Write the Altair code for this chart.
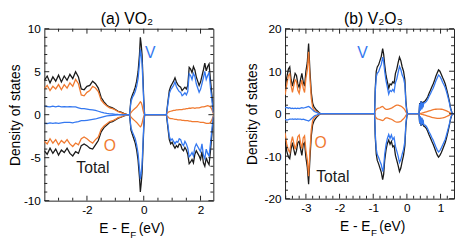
import altair as alt
import pandas as pd

FONT = "Liberation Sans"
C_TOT = "#1a1a1a"
C_V = "#3478f0"
C_O = "#f07a30"
FRAME = "#222222"

# ---------------- panel (a) VO2 ----------------
A_E = [-3.5, -3.4, -3.3, -3.2, -3.1, -3.0, -2.9, -2.8, -2.7, -2.6, -2.5, -2.4, -2.3, -2.2, -2.1, -2.0,
       -1.9, -1.8, -1.7, -1.6, -1.5, -1.4, -1.3, -1.2, -1.1, -1.0, -0.9, -0.8, -0.7, -0.6, -0.5,
       -0.45, -0.40, -0.35, -0.30, -0.25, -0.20, -0.15, -0.12, -0.09, -0.06, -0.03, 0.00, 0.03,
       0.75, 0.80, 0.85, 0.90, 0.95, 1.00, 1.05, 1.10, 1.15, 1.20, 1.25, 1.30, 1.35, 1.40, 1.45, 1.50,
       1.55, 1.60, 1.65, 1.70, 1.75, 1.80, 1.85, 1.90, 1.95, 2.00, 2.05, 2.10, 2.15, 2.20, 2.25, 2.30,
       2.35, 2.40, 2.45]
A_TOT_UP = [4.0, 4.5, 3.7, 4.4, 3.9, 4.6, 3.8, 4.5, 4.0, 4.7, 4.2, 5.0, 4.4, 3.0, 2.9, 3.3,
            3.4, 3.9, 3.6, 3.1, 2.0, 1.5, 1.1, 0.9, 0.8, 0.6, 0.4, 0.3, 0.15, 0.05, 0.0,
            1.8, 2.3, 2.7, 3.2, 3.9, 5.0, 7.0, 9.0, 8.2, 7.0, 4.5, 1.8, 0.0,
            0.0, 0.05, 1.5, 2.8, 3.3, 3.6, 3.9, 4.3, 3.8, 3.5, 3.3, 3.2, 2.8, 3.0, 3.2, 3.0,
            3.4, 5.5, 5.3, 4.9, 5.6, 5.2, 4.4, 3.9, 3.4, 3.8, 4.5, 5.2, 6.0, 5.1, 5.6, 5.9,
            4.0, 2.3, 0.3]
A_TOT_DN = [-4.2, -4.6, -3.9, -4.5, -4.0, -4.7, -4.1, -4.4, -3.9, -4.5, -4.8, -4.3, -4.5, -3.6, -3.4, -3.6,
            -3.9, -4.0, -3.5, -3.0, -2.0, -1.5, -1.2, -0.9, -0.8, -0.6, -0.4, -0.3, -0.15, -0.05, 0.0,
            -1.8, -2.3, -2.8, -3.3, -4.1, -5.3, -7.3, -9.0, -8.0, -6.8, -4.2, -1.6, 0.0,
            0.0, -0.05, -1.5, -2.9, -3.4, -3.2, -3.6, -3.9, -3.6, -3.8, -3.4, -3.5, -4.0, -4.2, -3.8, -4.1,
            -4.6, -5.7, -5.5, -5.2, -5.6, -4.6, -4.2, -4.5, -4.8, -5.2, -4.3, -5.6, -6.0, -5.0, -5.5, -5.8,
            -4.2, -2.3, -0.3]
A_V_UP = [1.0, 0.95, 0.9, 1.0, 0.9, 1.0, 0.9, 0.95, 0.9, 0.95, 0.9, 0.9, 0.8, 0.7, 0.7, 0.65,
          0.6, 0.55, 0.5, 0.4, 0.3, 0.22, 0.15, 0.1, 0.08, 0.05, 0.03, 0.02, 0.01, 0.0, 0.0,
          1.5, 2.0, 2.3, 2.7, 3.3, 4.2, 6.0, 7.6, 7.0, 6.0, 3.8, 1.5, 0.0,
          0.0, 0.0, 1.25, 2.45, 2.9, 3.15, 3.4, 3.8, 3.25, 2.95, 2.7, 2.6, 2.2, 2.35, 2.55, 2.3,
          2.7, 4.75, 4.55, 4.1, 4.8, 4.45, 3.6, 3.1, 2.6, 2.95, 3.6, 4.3, 5.05, 4.1, 4.55, 4.9,
          3.1, 1.7, 0.2]
A_V_DN = [-1.0, -1.05, -0.95, -1.0, -0.95, -1.0, -0.95, -0.9, -0.9, -0.9, -0.95, -0.85, -0.8, -0.7, -0.7, -0.65,
          -0.6, -0.55, -0.5, -0.4, -0.3, -0.22, -0.15, -0.1, -0.08, -0.05, -0.03, -0.02, -0.01, 0.0, 0.0,
          -1.5, -2.0, -2.4, -2.8, -3.5, -4.5, -6.3, -7.5, -6.8, -5.8, -3.6, -1.3, 0.0,
          0.0, 0.0, -1.2, -2.5, -3.0, -2.8, -3.1, -3.4, -3.1, -3.2, -2.8, -2.9, -3.4, -3.6, -3.1, -3.4,
          -3.9, -4.9, -4.7, -4.4, -4.8, -3.8, -3.4, -3.7, -4.0, -4.3, -3.4, -4.7, -5.1, -4.0, -4.5, -4.8,
          -3.3, -1.7, -0.2]
A_O_UP = [3.0, 3.4, 2.8, 3.3, 3.0, 3.5, 2.9, 3.5, 3.1, 3.7, 3.3, 4.1, 3.6, 2.3, 2.2, 2.6,
          2.8, 3.3, 3.1, 2.7, 1.7, 1.3, 1.0, 0.8, 0.7, 0.55, 0.35, 0.25, 0.12, 0.04, 0.0,
          0.25, 0.45, 0.6, 0.75, 0.9, 1.1, 1.35, 1.5, 1.4, 1.1, 0.6, 0.2, 0.0,
          0.0, 0.05, 0.25, 0.35, 0.4, 0.45, 0.5, 0.5, 0.55, 0.55, 0.6, 0.6, 0.6, 0.65, 0.65, 0.7,
          0.7, 0.75, 0.75, 0.8, 0.8, 0.75, 0.8, 0.8, 0.8, 0.85, 0.9, 0.9, 0.95, 1.0, 1.05, 1.0,
          0.9, 0.6, 0.1]
A_O_DN = [-3.1, -3.4, -2.8, -3.3, -2.9, -3.5, -3.0, -3.3, -2.9, -3.4, -3.7, -3.3, -3.5, -2.8, -2.6, -2.8,
          -3.1, -3.3, -2.9, -2.6, -1.7, -1.3, -1.05, -0.8, -0.7, -0.55, -0.35, -0.25, -0.12, -0.04, 0.0,
          -0.25, -0.45, -0.6, -0.75, -0.9, -1.1, -1.3, -1.4, -1.3, -1.0, -0.55, -0.2, 0.0,
          0.0, -0.1, -0.25, -0.4, -0.45, -0.45, -0.5, -0.55, -0.55, -0.6, -0.6, -0.6, -0.65, -0.65, -0.7, -0.7,
          -0.7, -0.75, -0.75, -0.8, -0.8, -0.8, -0.8, -0.8, -0.85, -0.9, -0.9, -0.9, -0.95, -1.0, -1.0, -1.0,
          -0.9, -0.6, -0.1]
A_XDOM = [-3.5, 2.45]
A_YDOM = [-10, 10]
A_XMAJ = [-2, 0, 2]
A_XMIN = [-3.0, -2.5, -1.5, -1.0, -0.5, 0.5, 1.0, 1.5]
A_YMAJ = [-10, -5, 0, 5, 10]
A_YMIN = [-9, -8, -7, -6, -4, -3, -2, -1, 1, 2, 3, 4, 6, 7, 8, 9]
A_LAB_TXT = ["V", "O", "Total"]
A_LAB_E = [0.23, -1.19, -1.79]
A_LAB_DOS = [7.2, -3.7, -6.2]

# ---------------- panel (b) V2O3 ----------------
B_E = [-3.62, -3.57, -3.52, -3.48, -3.44, -3.40, -3.36, -3.32, -3.28, -3.24, -3.20, -3.16, -3.12, -3.08,
       -3.04, -3.00, -2.96, -2.92, -2.88, -2.84, -2.80, -2.76, -2.72, -2.68, -2.64, -2.60, -2.56,
       -0.96, -0.94, -0.91, -0.88, -0.84, -0.80, -0.76, -0.72, -0.69, -0.66, -0.62, -0.58, -0.54, -0.50,
       -0.46, -0.42, -0.38, -0.34, -0.30, -0.26, -0.22, -0.18, -0.14, -0.10, -0.06, -0.03, 0.00, 0.02,
       0.36, 0.38, 0.40, 0.42, 0.44, 0.46, 0.48, 0.50, 0.54, 0.58, 0.62, 0.66, 0.70, 0.74, 0.78, 0.82,
       0.86, 0.90, 0.94, 0.98, 1.02, 1.06, 1.10, 1.14, 1.18, 1.22, 1.26, 1.30, 1.34, 1.36, 1.40]
B_TOT_UP = [6.0, 8.5, 10.5, 11.0, 8.0, 6.5, 8.0, 9.5, 9.0, 7.0, 6.2, 8.0, 9.5, 7.5,
            6.5, 10.0, 12.0, 16.5, 10.0, 5.0, 2.5, 1.6, 1.2, 0.8, 0.5, 0.2, 0.0,
            0.0, 6.0, 10.0, 11.0, 11.5, 12.5, 13.5, 15.3, 14.0, 11.5, 9.0, 7.5, 6.0, 7.0,
            6.8, 7.5, 7.2, 9.5, 10.5, 12.0, 13.3, 12.5, 11.0, 10.0, 8.0, 3.0, 0.5, 0.0,
            0.0, 2.5, 0.8, 3.0, 1.2, 2.8, 1.8, 2.8, 3.0, 3.4, 4.0, 4.8, 5.5, 6.3, 7.0, 7.8,
            8.8, 9.6, 10.3, 10.0, 9.3, 8.5, 7.8, 7.0, 5.8, 4.5, 3.0, 1.3, 0.2, 0.0, 0.0]
B_TOT_DN = [-6.0, -8.8, -10.2, -10.6, -8.3, -6.8, -8.4, -9.8, -8.7, -6.8, -6.5, -8.3, -9.8, -7.2,
            -6.8, -10.3, -12.5, -16.6, -10.5, -5.2, -2.6, -1.7, -1.2, -0.8, -0.5, -0.2, 0.0,
            0.0, -5.5, -9.5, -11.0, -11.8, -12.8, -13.8, -15.5, -14.2, -11.0, -8.5, -7.0, -6.2, -7.2,
            -6.5, -7.8, -7.5, -9.8, -11.0, -12.2, -13.6, -12.8, -11.2, -9.8, -7.5, -2.8, -0.5, 0.0,
            0.0, -2.3, -0.7, -2.9, -1.0, -2.7, -1.6, -2.9, -3.1, -3.5, -4.2, -5.0, -5.7, -6.5, -7.2, -8.0,
            -8.9, -9.7, -10.2, -9.8, -9.2, -8.4, -7.6, -6.8, -5.6, -4.3, -2.8, -1.2, -0.2, 0.0, 0.0]
B_V_UP = [1.4, 1.5, 1.3, 1.4, 1.2, 1.3, 1.2, 1.3, 1.2, 1.3, 1.2, 1.3, 1.4, 1.3,
          1.4, 1.5, 1.6, 1.7, 1.5, 1.2, 0.9, 0.6, 0.4, 0.3, 0.15, 0.05, 0.0,
          0.0, 5.2, 8.7, 9.5, 9.9, 10.8, 11.6, 13.3, 12.2, 10.0, 7.7, 6.2, 4.6, 5.5,
          5.2, 5.7, 5.2, 7.3, 8.2, 9.7, 11.1, 10.4, 9.1, 8.4, 6.8, 2.4, 0.3, 0.0,
          0.0, 2.4, 0.7, 2.9, 1.0, 2.6, 1.5, 2.5, 2.6, 2.9, 3.4, 4.1, 4.7, 5.4, 6.0, 6.8,
          7.7, 8.4, 9.1, 8.8, 8.2, 7.4, 6.8, 6.1, 5.1, 3.9, 2.6, 1.1, 0.15, 0.0, 0.0]
B_V_DN = [-1.3, -1.5, -1.4, -1.3, -1.3, -1.2, -1.3, -1.2, -1.3, -1.2, -1.3, -1.3, -1.4, -1.3,
          -1.4, -1.5, -1.6, -1.7, -1.5, -1.2, -0.9, -0.6, -0.4, -0.3, -0.15, -0.05, 0.0,
          0.0, -4.7, -8.3, -9.6, -10.3, -11.2, -12.0, -13.6, -12.5, -9.6, -7.3, -5.8, -4.9, -5.8,
          -5.0, -6.1, -5.6, -7.7, -8.8, -10.0, -11.5, -10.8, -9.5, -8.4, -6.5, -2.3, -0.4, 0.0,
          0.0, -2.2, -0.6, -2.8, -0.9, -2.5, -1.4, -2.6, -2.7, -3.0, -3.6, -4.3, -4.9, -5.6, -6.2, -7.0,
          -7.8, -8.5, -9.0, -8.7, -8.1, -7.4, -6.7, -6.0, -4.9, -3.7, -2.5, -1.0, -0.15, 0.0, 0.0]
B_O_UP = [4.4, 6.8, 9.0, 9.4, 6.6, 5.0, 6.6, 8.0, 7.6, 5.5, 4.8, 6.5, 7.9, 6.0,
          5.0, 8.3, 10.2, 14.6, 8.3, 3.6, 1.5, 0.9, 0.7, 0.45, 0.3, 0.1, 0.0,
          0.0, 0.6, 1.0, 1.2, 1.3, 1.4, 1.6, 1.7, 1.5, 1.2, 1.0, 1.0, 1.1, 1.2,
          1.3, 1.5, 1.7, 1.9, 2.0, 2.0, 1.9, 1.8, 1.6, 1.3, 0.9, 0.4, 0.1, 0.0,
          0.0, 0.03, 0.06, 0.1, 0.13, 0.17, 0.2, 0.25, 0.35, 0.45, 0.55, 0.65, 0.75, 0.85, 0.95, 1.0,
          1.05, 1.1, 1.1, 1.1, 1.05, 1.0, 0.9, 0.8, 0.65, 0.5, 0.35, 0.15, 0.02, 0.0, 0.0]
B_O_DN = [-4.5, -7.1, -8.6, -9.1, -6.8, -5.4, -6.9, -8.4, -7.2, -5.4, -5.0, -6.8, -8.2, -5.7,
          -5.2, -8.6, -10.7, -14.7, -8.8, -3.8, -1.6, -1.0, -0.7, -0.45, -0.3, -0.1, 0.0,
          0.0, -0.6, -1.0, -1.2, -1.3, -1.4, -1.5, -1.6, -1.5, -1.2, -1.0, -1.0, -1.1, -1.2,
          -1.3, -1.5, -1.7, -1.9, -2.0, -2.0, -1.9, -1.8, -1.5, -1.2, -0.8, -0.4, -0.1, 0.0,
          0.0, -0.03, -0.06, -0.1, -0.13, -0.17, -0.2, -0.25, -0.35, -0.45, -0.55, -0.65, -0.75, -0.85, -0.95, -1.0,
          -1.05, -1.1, -1.1, -1.1, -1.05, -1.0, -0.9, -0.8, -0.65, -0.5, -0.35, -0.15, -0.02, 0.0, 0.0]
B_XDOM = [-3.62, 1.4]
B_YDOM = [-20, 20]
B_XMAJ = [-3, -2, -1, 0, 1]
B_XMIN = [-3.6, -3.4, -3.2, -2.8, -2.6, -2.4, -2.2, -1.8, -1.6, -1.4, -1.2, -0.8, -0.6, -0.4, -0.2,
          0.2, 0.4, 0.6, 0.8, 1.2]
B_YMAJ = [-20, -10, 0, 10, 20]
B_YMIN = [-18, -16, -14, -12, -8, -6, -4, -2, 2, 4, 6, 8, 12, 14, 16, 18]
B_LAB_TXT = ["V", "O", "Total"]
B_LAB_E = [-1.32, -2.56, -2.2]
B_LAB_DOS = [14.2, -6.9, -14.9]


def make_axes(xmaj, ymaj, h, ytx):
    xaxis = alt.Axis(values=xmaj, ticks=False, domain=False, grid=False, labelPadding=4,
                     labelFontSize=12, labelFont=FONT, labelColor="black", title=None,
                     labelExpr="'' + datum.value", labelFlush=False, labelOverlap=False)
    yaxis = alt.Axis(values=ymaj, ticks=False, domain=False, grid=False, labelPadding=4,
                     labelFontSize=12, labelFont=FONT, labelColor="black",
                     labelExpr="'' + datum.value", labelFlush=False, labelOverlap=False,
                     title="Density of states", titleFont=FONT, titleFontSize=14,
                     titleFontWeight="normal", titleColor="black", titleX=ytx, titleY=h / 2,
                     titleAngle=270, titleBaseline="alphabetic", titleAlign="center")
    return xaxis, yaxis


def tick_layer(vals, side, length, xs, ys, xaxis, yaxis, w, h):
    df = pd.DataFrame({"t": vals})
    m = alt.Chart(df).mark_rule(color=FRAME, strokeWidth=1)
    if side == "bottom":
        return m.encode(x=alt.X("t:Q", scale=xs, axis=xaxis), y=alt.value(h), y2=alt.value(h - length))
    if side == "top":
        return m.encode(x=alt.X("t:Q", scale=xs, axis=xaxis), y=alt.value(0), y2=alt.value(length))
    if side == "left":
        return m.encode(y=alt.Y("t:Q", scale=ys, axis=yaxis), x=alt.value(0), x2=alt.value(length))
    return m.encode(y=alt.Y("t:Q", scale=ys, axis=yaxis), x=alt.value(w), x2=alt.value(w - length))


def panel(E, curves, xdom, ydom, xmaj, xmin, ymaj, ymin, lab_txt, lab_e, lab_dos,
          w, h, title, toff, tdx, ytx):
    xs = alt.Scale(domain=xdom, nice=False, zero=False)
    ys = alt.Scale(domain=ydom, nice=False, zero=False)
    xaxis, yaxis = make_axes(xmaj, ymaj, h, ytx)
    layers = []
    for color, up, dn in curves:
        df = pd.DataFrame({"E": E + E, "dos": up + dn,
                           "spin": ["up"] * len(E) + ["down"] * len(E)})
        layers.append(
            alt.Chart(df).mark_line(color=color, strokeWidth=1.3, clip=True).encode(
                x=alt.X("E:Q", scale=xs, axis=xaxis),
                y=alt.Y("dos:Q", scale=ys, axis=yaxis),
                detail="spin:N",
            )
        )
    for side in ["bottom", "top"]:
        layers.append(tick_layer(xmaj, side, 5, xs, ys, xaxis, yaxis, w, h))
        layers.append(tick_layer(xmin, side, 3, xs, ys, xaxis, yaxis, w, h))
    for side in ["left", "right"]:
        layers.append(tick_layer(ymaj, side, 5, xs, ys, xaxis, yaxis, w, h))
        layers.append(tick_layer(ymin, side, 3, xs, ys, xaxis, yaxis, w, h))
    lab = pd.DataFrame({"E": lab_e, "dos": lab_dos, "txt": lab_txt})
    layers.append(
        alt.Chart(lab).mark_text(font=FONT, fontSize=16, baseline="middle", align="center").encode(
            x=alt.X("E:Q", scale=xs, axis=xaxis),
            y=alt.Y("dos:Q", scale=ys, axis=yaxis),
            text="txt:N",
            color=alt.Color("txt:N", scale=alt.Scale(domain=["V", "O", "Total"],
                                                     range=[C_V, C_O, C_TOT]), legend=None),
        )
    )
    one = pd.DataFrame({"k": [0]})
    layers.append(alt.Chart(one).mark_text(text="E - E", align="right", baseline="alphabetic",
                                           font=FONT, fontSize=14, color="black").encode(
        x=alt.value(w / 2 + 1), y=alt.value(h + 33)))
    layers.append(alt.Chart(one).mark_text(text="F", align="left", baseline="alphabetic",
                                           font=FONT, fontSize=10, color="black").encode(
        x=alt.value(w / 2 + 1.5), y=alt.value(h + 38)))
    layers.append(alt.Chart(one).mark_text(text="(eV)", align="left", baseline="alphabetic",
                                           font=FONT, fontSize=14, color="black").encode(
        x=alt.value(w / 2 + 10), y=alt.value(h + 33)))
    return alt.layer(*layers).properties(
        width=w, height=h,
        title=alt.TitleParams(text=title, font=FONT, fontSize=16, fontWeight="normal",
                              color="black", anchor="middle", frame="group", offset=toff,
                              dx=tdx),
    )


pa = panel(A_E, [(C_TOT, A_TOT_UP, A_TOT_DN), (C_O, A_O_UP, A_O_DN), (C_V, A_V_UP, A_V_DN)],
           A_XDOM, A_YDOM, A_XMAJ, A_XMIN, A_YMAJ, A_YMIN, A_LAB_TXT, A_LAB_E, A_LAB_DOS,
           172, 175, "(a) VO\u2082", -4, -2, -25)
pb = panel(B_E, [(C_TOT, B_TOT_UP, B_TOT_DN), (C_O, B_O_UP, B_O_DN), (C_V, B_V_UP, B_V_DN)],
           B_XDOM, B_YDOM, B_XMAJ, B_XMIN, B_YMAJ, B_YMIN, B_LAB_TXT, B_LAB_E, B_LAB_DOS,
           172, 173, "(b) V\u2082O\u2083", -4, 4, -29)

chart = alt.hconcat(pa, pb, spacing=31, padding=0).resolve_scale(
    x="independent", y="independent", color="independent"
).configure_view(stroke=FRAME, strokeWidth=1)

chart.save("out.html", embed_options={"renderer": "svg", "actions": False})
